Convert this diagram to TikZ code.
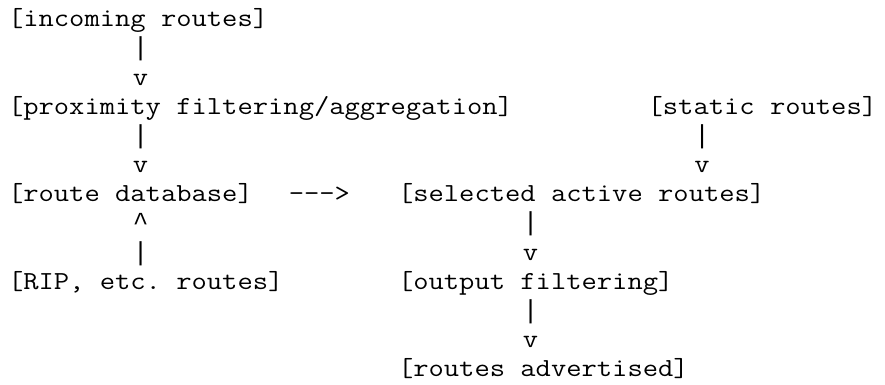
\documentclass[tikz,border=0pt]{standalone}
\usepackage{fontspec}
\usepackage{graphicx}
\newfontfamily\barfont[Ligatures=TeXOff]{Liberation Mono}
\tikzset{
  txt/.style={anchor=base west, inner sep=0pt, outer sep=0pt,
    font=\ttfamily\fontsize{26}{29.2}\selectfont\frenchspacing},
  sym/.style={anchor=base west, inner sep=0pt, outer sep=0pt,
    font=\barfont\fontsize{26}{29.2}\selectfont}
}
% Latin Modern Mono is 0.525em wide; stretch to the 0.6em of the reference
\newcommand\cw[1]{\scalebox{1.142857}[1]{#1}}
% column c, line l  ->  position of the character cell (base line)
\newcommand\gp[2]{({8+15.6*(#1)},{-26.7-29.17*((#2)-1)})}
\begin{document}
\begin{tikzpicture}[x=1pt,y=1pt]
  \useasboundingbox (0,0) rectangle (885,-385);
  \fill[white] (0,0) rectangle (885,-385);
  % line 1-3
  \node[txt] (incoming) at \gp{0}{1} {\cw{[incoming routes]}};
  \node[sym] (incbar)   at \gp{8}{2} {|};
  \node[txt] (incv)     at \gp{8}{3} {\cw{v}};
  % line 4-6
  \node[txt] (prox)     at \gp{0}{4} {\cw{[proximity filtering/aggregation]}};
  \node[txt] (static)   at \gp{41}{4} {\cw{[static routes]}};
  \node[sym] (proxbar)  at \gp{8}{5} {|};
  \node[sym] (statbar)  at \gp{44}{5} {|};
  \node[txt] (proxv)    at \gp{8}{6} {\cw{v}};
  \node[txt] (statv)    at \gp{44}{6} {\cw{v}};
  % line 7
  \node[txt] (rdb)      at \gp{0}{7} {\cw{[route database]}};
  \node[txt] (rdbarrow) at \gp{18}{7} {\cw{\mbox{-}\mbox{-}\mbox{-}\mbox{>}}};
  \node[txt] (sel)      at \gp{25}{7} {\cw{[selected active routes]}};
  % line 8-9
  \node[sym] (ripcaret) at \gp{8}{8} {\textasciicircum};
  \node[sym] (selbar)   at \gp{33}{8} {|};
  \node[sym] (ripbar)   at \gp{8}{9} {|};
  \node[txt] (selv)     at \gp{33}{9} {\cw{v}};
  % line 10
  \node[txt] (rip)      at \gp{0}{10} {\cw{[RIP, etc. routes]}};
  \node[txt] (out)      at \gp{25}{10} {\cw{[output filtering]}};
  % line 11-13
  \node[sym] (outbar)   at \gp{33}{11} {|};
  \node[txt] (outv)     at \gp{33}{12} {\cw{v}};
  \node[txt] (adv)      at \gp{25}{13} {\cw{[routes advertised]}};
\end{tikzpicture}
\end{document}
